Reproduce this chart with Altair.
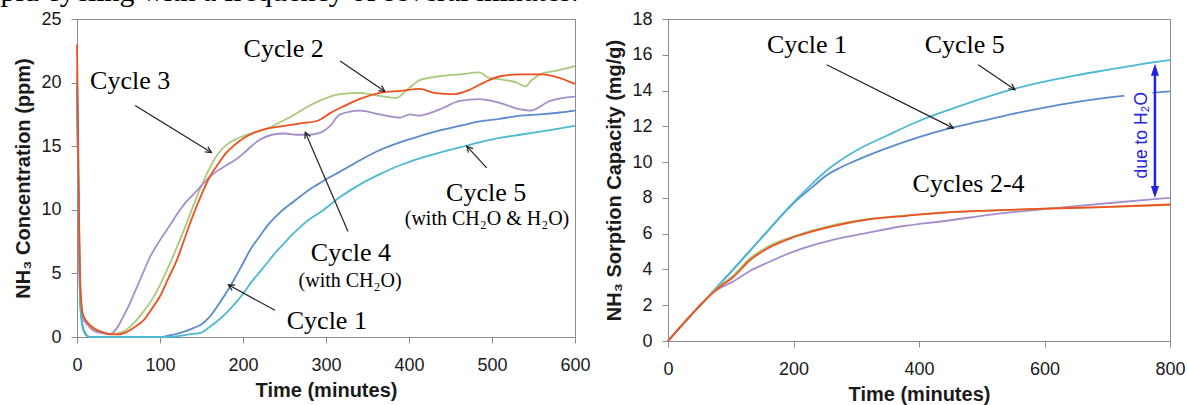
import math
import altair as alt
import pandas as pd

PAGE_TEXT = "pid cycling with a frequency of several minutes."

# ---------------- Left panel: NH3 concentration (ppm) ----------------
L_X_TICKS = [0, 100, 200, 300, 400, 500, 600]
L_Y_TICKS = [0, 5, 10, 15, 20, 25]

L_c1_t = [0, 2, 4, 7, 10, 15, 100, 110, 120, 130, 140, 150, 160, 170, 180, 190, 200, 210, 220, 230,
          240, 250, 260, 270, 280, 290, 300, 317, 341, 365, 389, 413, 437, 461, 485, 509, 534, 558, 582, 600]
L_c1_v = [20, 9, 2.5, 0.8, 0.3, 0, 0, 0.1, 0.25, 0.45, 0.7, 1.0, 1.6, 2.5, 3.5, 4.6, 5.8, 7.0, 7.9, 8.8,
          9.5, 10.1, 10.6, 11.1, 11.6, 12.0, 12.4, 13.0, 13.9, 14.7, 15.3, 15.8, 16.25, 16.6, 16.95, 17.15, 17.4, 17.5, 17.65, 17.8]

L_c2_t = [0, 2, 4, 7, 12, 20, 30, 40, 50, 60, 70, 80, 90, 100, 110, 120, 130, 140, 150, 160, 170, 180, 190, 200,
          215, 230, 250, 270, 290, 305, 320, 340, 365, 390, 413, 430, 455, 475, 490, 510, 535, 560, 580, 600]
L_c2_v = [23, 12, 4, 1.8, 1.2, 0.7, 0.4, 0.2, 0.2, 0.4, 0.8, 1.3, 2.2, 3.2, 4.6, 6.0, 7.8, 9.6, 11.2, 12.6, 13.6, 14.5, 15.1, 15.6,
          16.1, 16.4, 16.6, 16.8, 17.0, 17.6, 18.1, 18.7, 19.2, 19.35, 19.5, 19.2, 19.1, 19.5, 20.0, 20.5, 20.65, 20.65, 20.4, 19.9]

L_c3_t = [0, 2, 4, 7, 12, 20, 30, 40, 50, 60, 70, 80, 90, 100, 110, 120, 130, 140, 150, 160, 170, 180, 190, 200,
          215, 230, 245, 260, 275, 293, 317, 341, 365, 385, 397, 413, 437, 461, 485, 495, 510, 530, 540, 548, 560, 575, 600]
L_c3_v = [21, 11, 4, 1.7, 1.1, 0.6, 0.35, 0.25, 0.3, 0.6, 1.2, 2.0, 2.9, 4.1, 5.5, 7.0, 8.6, 10.3, 11.9, 13.3, 14.4, 15.1, 15.5, 15.8,
          16.1, 16.4, 16.9, 17.4, 18.0, 18.6, 19.1, 19.2, 18.95, 18.8, 19.4, 20.2, 20.5, 20.65, 20.8, 20.4, 20.25, 20.0, 19.7, 20.2, 20.7, 20.9, 21.3]

L_c4_t = [0, 2, 4, 7, 12, 20, 30, 40, 48, 55, 62, 70, 78, 88, 98, 108, 118, 130, 140, 150, 160, 170, 180, 190, 200, 210, 220,
          235, 250, 265, 280, 293, 305, 317, 341, 365, 389, 401, 413, 425, 441, 461, 485, 509, 534, 546, 570, 600]
L_c4_v = [20, 10, 3.5, 1.5, 1.0, 0.5, 0.3, 0.25, 0.7, 1.5, 2.4, 3.6, 4.8, 6.3, 7.4, 8.4, 9.4, 10.5, 11.2, 11.9, 12.6, 13.1, 13.5, 13.9, 14.4, 15.0, 15.5,
          15.9, 16.0, 15.9, 15.9, 16.06, 16.6, 17.5, 17.8, 17.5, 17.25, 17.5, 17.4, 17.6, 18.0, 18.56, 18.7, 18.4, 17.9, 17.8, 18.56, 18.9]

L_c5_t = [0, 2, 4, 7, 10, 15, 108, 120, 135, 150, 160, 170, 180, 190, 200, 210, 220, 230, 240, 250, 260, 270, 280,
          293, 317, 341, 365, 389, 413, 437, 461, 485, 509, 534, 558, 582, 600]
L_c5_v = [20, 9, 2.5, 0.7, 0.2, 0, 0, 0.05, 0.2, 0.35, 0.8, 1.3, 1.9, 2.6, 3.4, 4.3, 5.1, 5.9, 6.7, 7.4, 8.1, 8.7, 9.25,
          9.8, 11.0, 12.0, 12.8, 13.5, 14.05, 14.5, 14.9, 15.3, 15.65, 15.9, 16.15, 16.4, 16.6]

L_lab_text = ["Cycle 2", "Cycle 3", "Cycle 4", "(with CH₂O)", "Cycle 1", "Cycle 5", "(with CH₂O & H₂O)"]
L_lab_t = [249, 64, 330, 329, 301, 493, 494]
L_lab_v = [22.0, 19.5, 5.95, 3.9, 0.6, 10.67, 8.83]
L_lab_size = [26, 26, 26, 20, 26, 26, 20]

L_arr_t1 = [317, 70, 326.5, 238.5, 493.6]
L_arr_v1 = [21.7, 18.2, 8.3, 2.1, 13.3]
L_arr_t2 = [371, 162, 275, 182.3, 469.5]
L_arr_v2 = [19.3, 14.5, 16.1, 4.1, 15.0]

# ---------------- Right panel: NH3 sorption capacity (mg/g) ----------------
R_X_TICKS = [0, 200, 400, 600, 800]
R_Y_TICKS = [0, 2, 4, 6, 8, 10, 12, 14, 16, 18]

R_c1_t = [0, 50, 100, 150, 200, 230, 250, 275, 300, 350, 400, 450, 500, 550, 600, 650, 700, 750, 800]
R_c1_v = [0, 1.95, 3.85, 5.8, 7.7, 8.6, 9.2, 9.7, 10.1, 10.8, 11.4, 11.9, 12.3, 12.7, 13.05, 13.35, 13.6, 13.8, 13.95]
R_c5_t = [0, 50, 100, 150, 200, 230, 250, 275, 300, 350, 400, 450, 500, 550, 600, 650, 700, 750, 800]
R_c5_v = [0, 1.95, 3.85, 5.8, 7.75, 8.8, 9.45, 10.1, 10.65, 11.5, 12.3, 12.95, 13.55, 14.08, 14.5, 14.85, 15.15, 15.45, 15.7]
R_c2_t = [0, 50, 78, 105, 130, 160, 200, 260, 320, 380, 450, 520, 600, 680, 800]
R_c2_v = [0, 1.95, 2.9, 3.6, 4.5, 5.2, 5.8, 6.4, 6.8, 7.0, 7.2, 7.3, 7.4, 7.47, 7.63]
R_c3_t = [0, 50, 78, 105, 130, 160, 200, 260, 320, 380, 450, 520, 600, 680, 800]
R_c3_v = [0, 1.95, 2.95, 3.7, 4.6, 5.3, 5.85, 6.45, 6.82, 7.02, 7.2, 7.3, 7.4, 7.47, 7.6]
R_c4_t = [0, 50, 70, 105, 130, 160, 200, 264, 318, 371, 450, 515, 622, 700, 800]
R_c4_v = [0, 1.95, 2.65, 3.35, 3.9, 4.4, 5.0, 5.67, 6.05, 6.4, 6.75, 7.07, 7.44, 7.7, 8.0]

R_lab_text = ["Cycle 1", "Cycle 5", "Cycles 2-4"]
R_lab_t = [221.5, 473, 479]
R_lab_v = [16.1, 16.1, 8.35]
R_lab_size = [26, 26, 26]

R_arr_t1 = [252.9, 494.5]
R_arr_v1 = [15.44, 15.44]
R_arr_t2 = [454.7, 553]
R_arr_v2 = [11.9, 14.05]

H2O_TEXT = "due to H₂O"
H2O_T = 756
H2O_V = 11.5
H2O_ARROW_T = 776
H2O_ARROW_V = [8.0, 15.5]
BOX_T = [727, 772]
BOX_V = [8.7, 14.4]

C_BLUE = "#5a8ccc"
C_CYAN = "#4db8d4"
C_RED = "#f0501e"
C_GREEN = "#a9c97c"
C_PURPLE = "#a58ecb"

LW, LH = 498, 318
RW, RH = 502, 322

SANS = "Liberation Sans"
SERIF = "Liberation Serif"
AX = "#8c8c8c"


def enc(xd, yd, xt, yt, xtitle, ytitle):
    x = alt.X("t:Q", scale=alt.Scale(domain=xd, nice=False, zero=False),
              axis=alt.Axis(values=xt, title=xtitle, format="d", labelFlush=False,
                            labelPadding=13, titlePadding=6))
    y = alt.Y("v:Q", scale=alt.Scale(domain=yd, nice=False, zero=False),
              axis=alt.Axis(values=yt, title=ytitle, format="d", labelPadding=10, titlePadding=7))
    return x, y


def arrow_layers(X, Y, t1, v1, t2, v2, kx, ky):
    ang = []
    for a, b, c, d in zip(t1, v1, t2, v2):
        dx = (c - a) * kx
        dy = -(d - b) * ky
        ang.append(math.degrees(math.atan2(dy, dx)) % 360)
    rules = pd.DataFrame({"t": t1, "v": v1, "t2": t2, "v2": v2})
    heads = pd.DataFrame({"t": t2, "v": v2, "ang": ang})
    r = alt.Chart(rules).mark_rule(color="#222222", strokeWidth=1.2).encode(
        x=X, y=Y, x2="t2:Q", y2="v2:Q")
    h = alt.Chart(heads).mark_point(shape="M-2,-1L0,0L-2,1", filled=False, size=36,
                                   color="#222222", strokeWidth=1.2, opacity=1).encode(
        x=X, y=Y, angle=alt.Angle("ang:Q", scale=None))
    return [r, h]


def line(X, Y, ts, vs, color):
    df = pd.DataFrame({"t": ts, "v": vs})
    return alt.Chart(df).mark_line(color=color, strokeWidth=1.8, interpolate="monotone").encode(x=X, y=Y)


def labels(X, Y, ts, vs, texts, sizes):
    df = pd.DataFrame({"t": ts, "v": vs, "text": texts, "size": sizes})
    return alt.Chart(df).mark_text(font=SERIF, baseline="alphabetic", align="center", color="black").encode(
        x=X, y=Y, text="text:N", size=alt.Size("size:Q", scale=None))


# ---- left chart
LX, LY = enc([0, 600], [0, 25], L_X_TICKS, L_Y_TICKS, "Time (minutes)", "NH₃ Concentration (ppm)")
left_layers = [
    line(LX, LY, L_c3_t, L_c3_v, C_GREEN),
    line(LX, LY, L_c4_t, L_c4_v, C_PURPLE),
    line(LX, LY, L_c1_t, L_c1_v, C_BLUE),
    line(LX, LY, L_c5_t, L_c5_v, C_CYAN),
    line(LX, LY, L_c2_t, L_c2_v, C_RED),
    labels(LX, LY, L_lab_t, L_lab_v, L_lab_text, L_lab_size),
] + arrow_layers(LX, LY, L_arr_t1, L_arr_v1, L_arr_t2, L_arr_v2, LW / 600, LH / 25)
left = alt.layer(*left_layers).properties(width=LW, height=LH)

# ---- right chart
RX, RY = enc([0, 800], [0, 18], R_X_TICKS, R_Y_TICKS, "Time (minutes)", "NH₃ Sorption Capacity (mg/g)")
ky_r = RH / 18
box = alt.Chart(pd.DataFrame({"t": [BOX_T[0]], "t2": [BOX_T[1]], "v": [BOX_V[0]], "v2": [BOX_V[1]]})).mark_rect(
    color="white").encode(x=RX, x2="t2:Q", y=RY, y2="v2:Q")
h2o_text = alt.Chart(pd.DataFrame({"t": [H2O_T], "v": [H2O_V], "text": [H2O_TEXT]})).mark_text(
    font=SANS, fontSize=17.5, angle=270, align="center", baseline="middle", color="#2222e0").encode(
    x=RX, y=RY, text="text:N")
shrink = 5 / ky_r
h2o_rule = alt.Chart(pd.DataFrame({"t": [H2O_ARROW_T], "v": [H2O_ARROW_V[0] + shrink],
                                   "v2": [H2O_ARROW_V[1] - shrink]})).mark_rule(
    color="#2222e0", strokeWidth=2.5).encode(x=RX, y=RY, y2="v2:Q")
h2o_heads = alt.Chart(pd.DataFrame({"t": [H2O_ARROW_T, H2O_ARROW_T], "v": [H2O_ARROW_V[1], H2O_ARROW_V[0]],
                                    "ang": [0, 180]})).mark_point(
    shape="M0,0L1,3L-1,3Z", filled=True, size=64, color="#2222e0", opacity=1).encode(
    x=RX, y=RY, angle=alt.Angle("ang:Q", scale=None))

right_layers = [
    line(RX, RY, R_c1_t, R_c1_v, C_BLUE),
    line(RX, RY, R_c5_t, R_c5_v, C_CYAN),
    line(RX, RY, R_c4_t, R_c4_v, C_PURPLE),
    line(RX, RY, R_c3_t, R_c3_v, C_GREEN),
    line(RX, RY, R_c2_t, R_c2_v, C_RED),
    box, h2o_text, h2o_rule, h2o_heads,
    labels(RX, RY, R_lab_t, R_lab_v, R_lab_text, R_lab_size),
] + arrow_layers(RX, RY, R_arr_t1, R_arr_v1, R_arr_t2, R_arr_v2, RW / 800, ky_r)
right = alt.layer(*right_layers).properties(width=RW, height=RH)

chart = alt.hconcat(left, right, spacing=13).properties(
    title=alt.TitleParams(PAGE_TEXT, anchor="start", frame="bounds", font=SERIF, fontSize=30,
                          fontWeight="normal", color="black", offset=3, dx=-13),
    padding={"left": 0, "top": -24, "right": 0, "bottom": 0},
    background="white",
).configure_view(stroke=AX, strokeWidth=1).configure_axis(
    domainColor=AX, tickColor=AX, tickSize=6, grid=False,
    labelFont=SANS, labelFontSize=18, labelColor="#1a1a1a",
    titleFont=SANS, titleFontSize=20, titleFontWeight="bold", titleColor="#1a1a1a",
)

chart.save("out.html", embed_options={"renderer": "svg", "actions": False})
